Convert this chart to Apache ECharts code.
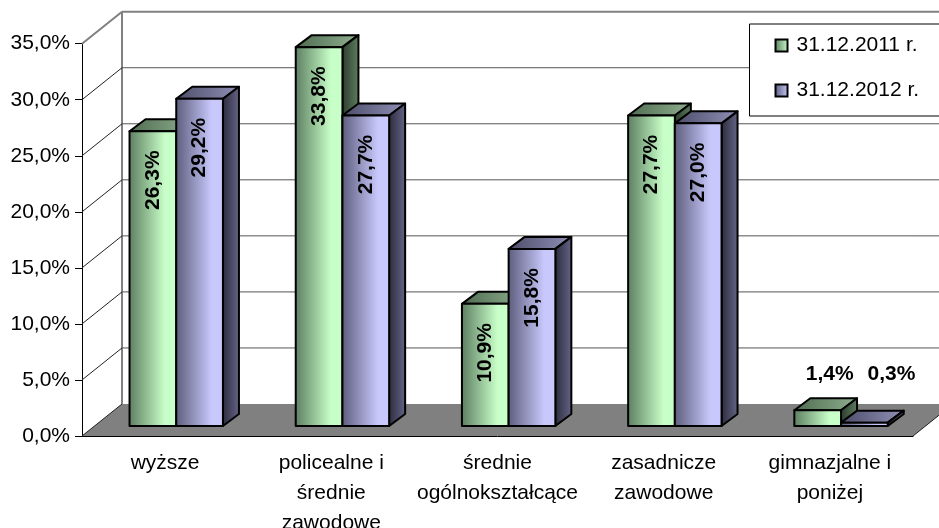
<!DOCTYPE html>
<html>
<head>
<meta charset="utf-8">
<style>html,body{margin:0;padding:0;background:#fff}#chart{width:939px;height:528px}</style>
<script src="https://cdn.jsdelivr.net/npm/echarts@6/dist/echarts.min.js"></script>
</head>
<body>
<div id="chart"></div>
<script>
const categories = ['wyższe', 'policealne i\nśrednie\nzawodowe', 'średnie\nogólnokształcące', 'zasadnicze\nzawodowe', 'gimnazjalne i\nponiżej'];
const values2011 = [26.3, 33.8, 10.9, 27.7, 1.4];
const values2012 = [29.2, 27.7, 15.8, 27.0, 0.3];
const ticks = [0, 5, 10, 15, 20, 25, 30, 35];

const font = '"Liberation Sans", Arial, sans-serif';
const wallDx = 40, wallDy = 32;
const barDx = 16, barDy = 12, baseDy = 10;

function grad(c0, c1, stop) {
  return new echarts.graphic.LinearGradient(0, 0, 1, 0, [
    { offset: 0, color: c0 }, { offset: stop, color: c1 }, { offset: 1, color: c1 }
  ]);
}
const green = { front: grad('#5c7d60', '#c8ffc8', 0.75), top: grad('#4f6b50', '#8fb08f', 1), side: grad('#2b3a2c', '#5f7f60', 1) };
const violet = { front: grad('#5c5c7c', '#c8c8fc', 0.75), top: grad('#4c4c68', '#9090b8', 1), side: grad('#2a2a3a', '#66668a', 1) };

function pct(v) {
  return v.toFixed(1).replace('.', ',') + '%';
}

function wallItem(params, api) {
  const g = params.coordSys;
  const v = api.value(0);
  const y = api.coord([0, v])[1];
  const x0 = g.x, x1 = g.x + g.width;
  const children = [];
  const thin = { stroke: '#222', lineWidth: 1, fill: null };
  const edge = { stroke: '#808080', lineWidth: 2, fill: null };
  if (v === 0) {
    children.push({
      type: 'polygon',
      shape: { points: [[x0, y], [x1, y], [x1 + wallDx, y - wallDy], [x0 + wallDx, y - wallDy]] },
      style: { fill: '#808080' }
    });
    children.push({ type: 'line', shape: { x1: x1, y1: y, x2: x1 + wallDx, y2: y - wallDy }, style: thin });
    children.push({ type: 'line', shape: { x1: x0, y1: y, x2: x0 + wallDx, y2: y - wallDy }, style: thin });
    const top = api.coord([0, ticks[ticks.length - 1]])[1] - wallDy;
    children.push({ type: 'line', shape: { x1: x0 + wallDx, y1: y - wallDy, x2: x0 + wallDx, y2: top }, style: edge });
  } else if (v === ticks[ticks.length - 1]) {
    children.push({ type: 'line', shape: { x1: x0, y1: y, x2: x0 + wallDx, y2: y - wallDy }, style: edge });
    children.push({ type: 'line', shape: { x1: x0 + wallDx, y1: y - wallDy, x2: x1 + wallDx, y2: y - wallDy }, style: edge });
  } else {
    children.push({ type: 'line', shape: { x1: x0, y1: y, x2: x0 + wallDx, y2: y - wallDy }, style: thin });
    children.push({ type: 'line', shape: { x1: x0 + wallDx, y1: y - wallDy, x2: x1 + wallDx, y2: y - wallDy }, style: { stroke: '#555', lineWidth: 1, fill: null } });
  }
  return { type: 'group', children: children };
}

function barItem(colors, slot) {
  return function (params, api) {
    const band = api.size([1, 0])[0];
    const w = band * 0.281;
    const c = api.coord([api.value(0), api.value(1)]);
    const base = api.coord([api.value(0), 0])[1] - baseDy;
    const left = c[0] - band / 2 + band * 0.286 + slot * w;
    const right = left + w;
    const top = c[1] - baseDy;
    const line = { stroke: '#000', lineWidth: 2, lineJoin: 'round' };
    const val = api.value(1);
    const children = [
      { type: 'polygon', shape: { points: [[left, top], [left + barDx, top - barDy], [right + barDx, top - barDy], [right, top]] }, style: Object.assign({ fill: colors.top }, line) },
      { type: 'polygon', shape: { points: [[right, top], [right + barDx, top - barDy], [right + barDx, base - barDy], [right, base]] }, style: Object.assign({ fill: colors.side }, line) },
      { type: 'rect', shape: { x: left, y: top, width: w, height: base - top }, style: Object.assign({ fill: colors.front }, line) }
    ];
    const boldFont = 'bold 21px ' + font;
    if (val > 5) {
      children.push({
        type: 'text', x: left + w / 2, y: top + 49, rotation: Math.PI / 2, z2: 10,
        style: { text: pct(val), font: boldFont, fill: '#000', align: 'center', verticalAlign: 'middle' }
      });
    } else {
      children.push({
        type: 'text', x: left + w / 2 + 12 + slot * 15, y: api.coord([0, 5.5])[1], z2: 10,
        style: { text: pct(val), font: boldFont, fill: '#000', align: 'center', verticalAlign: 'middle' }
      });
    }
    return { type: 'group', children: children };
  };
}

const chart = echarts.init(document.getElementById('chart'), null, { renderer: 'canvas' });
chart.setOption({
  animation: false,
  backgroundColor: '#fff',
  textStyle: { fontFamily: font },
  grid: { left: 82, right: 26, top: 43.7, bottom: 92, outerBoundsMode: 'none' },
  legend: {
    data: ['31.12.2011 r.', '31.12.2012 r.'],
    orient: 'vertical',
    left: 749.5,
    top: 24,
    padding: [11, 200, 15, 25],
    itemWidth: 12,
    itemHeight: 12,
    itemGap: 24,
    icon: 'rect',
    backgroundColor: '#fff',
    borderColor: '#000',
    borderWidth: 1,
    textStyle: { fontSize: 21, color: '#000', fontFamily: font, padding: [0, 0, 0, 4] }
  },
  xAxis: {
    type: 'category',
    data: categories,
    axisLine: { lineStyle: { color: '#000', width: 1 } },
    axisTick: { alignWithLabel: false, length: 6, lineStyle: { color: '#000' } },
    axisLabel: { fontSize: 21, color: '#000', lineHeight: 30, margin: 12, interval: 0, fontFamily: font }
  },
  yAxis: {
    type: 'value',
    min: 0,
    max: 35,
    interval: 5,
    splitLine: { show: false },
    axisLine: { show: true, lineStyle: { color: '#000', width: 1 } },
    axisTick: { show: true, length: 7, lineStyle: { color: '#000' } },
    axisLabel: { fontSize: 21, color: '#000', margin: 12, fontFamily: font, formatter: v => pct(v) }
  },
  series: [
    { type: 'custom', name: 'walls', data: ticks.map(t => [t]), renderItem: wallItem, silent: true, z: 1, encode: { y: 0 } },
    {
      type: 'custom', name: '31.12.2011 r.', renderItem: barItem(green, 0), z: 2,
      data: values2011.map((v, i) => [i, v]),
      encode: { x: 0, y: 1 },
      itemStyle: { color: new echarts.graphic.LinearGradient(0, 0, 1, 0, [{ offset: 0, color: '#5c7d60' }, { offset: 1, color: '#c8ffc8' }]), borderColor: '#000', borderWidth: 1.5 }
    },
    {
      type: 'custom', name: '31.12.2012 r.', renderItem: barItem(violet, 1), z: 2,
      data: values2012.map((v, i) => [i, v]),
      encode: { x: 0, y: 1 },
      itemStyle: { color: new echarts.graphic.LinearGradient(0, 0, 1, 0, [{ offset: 0, color: '#5c5c7c' }, { offset: 1, color: '#c8c8fc' }]), borderColor: '#000', borderWidth: 1.5 }
    }
  ]
});
</script>
</body>
</html>
